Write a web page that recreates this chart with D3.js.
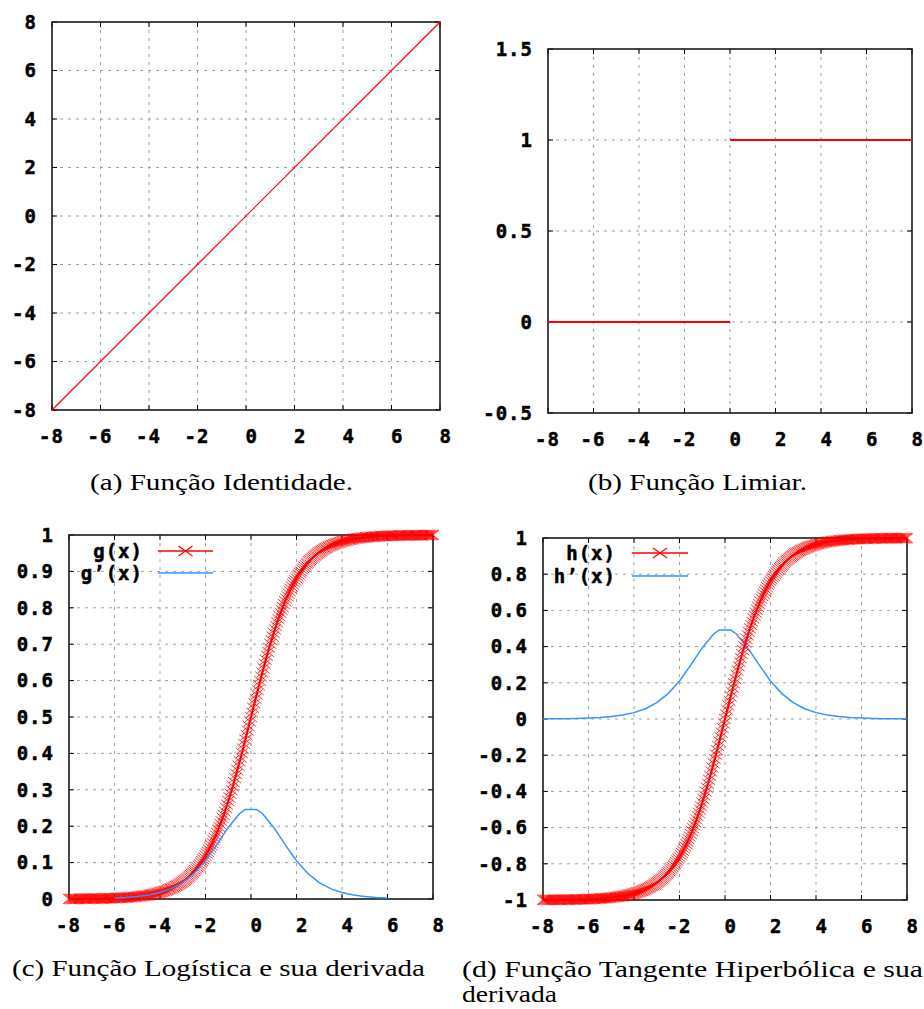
<!DOCTYPE html>
<html>
<head>
<meta charset="utf-8">
<script src="https://cdn.jsdelivr.net/npm/d3@7"></script>
<style>
  body { margin: 0; background: #fff; }
  text.tk { font-family: "DejaVu Sans Mono", monospace; font-weight: bold; font-size: 19px; letter-spacing: 1px; fill: #000; stroke: #000; stroke-width: 0.5px; }
  text.cap { font-family: "Liberation Serif", "DejaVu Serif", serif; font-size: 23px; fill: #000; }
</style>
</head>
<body>
<div id="chart"></div>
<script>
// ---- data ----
const xTicks = [-8, -6, -4, -2, 0, 2, 4, 6, 8];

const identX = [-8, 8];
const identY = [-8, 8];

const stepLowX = [-8, 0];
const stepLowY = [0, 0];
const stepHighX = [0, 8];
const stepHighY = [1, 1];

const yTicksA = [-8, -6, -4, -2, 0, 2, 4, 6, 8];
const yTicksB = [-0.5, 0, 0.5, 1, 1.5];
const yLabelsB = ['-0.5', '0', '0.5', '1', '1.5'];
const yTicksC = [0, 0.1, 0.2, 0.3, 0.4, 0.5, 0.6, 0.7, 0.8, 0.9, 1];
const yLabelsC = ['0', '0.1', '0.2', '0.3', '0.4', '0.5', '0.6', '0.7', '0.8', '0.9', '1'];
const yTicksD = [-1, -0.8, -0.6, -0.4, -0.2, 0, 0.2, 0.4, 0.6, 0.8, 1];
const yLabelsD = ['-1', '-0.8', '-0.6', '-0.4', '-0.2', '0', '0.2', '0.4', '0.6', '0.8', '1'];

// sample positions of the marked curves
const sampleX = [
  -8,-7.95,-7.9,-7.85,-7.8,-7.75,-7.7,-7.65,-7.6,-7.55,-7.5,-7.45,-7.4,-7.35,-7.3,-7.25,-7.2,-7.15,-7.1,-7.05,
  -7,-6.95,-6.9,-6.85,-6.8,-6.75,-6.7,-6.65,-6.6,-6.55,-6.5,-6.45,-6.4,-6.35,-6.3,-6.25,-6.2,-6.15,-6.1,-6.05,
  -6,-5.95,-5.9,-5.85,-5.8,-5.75,-5.7,-5.65,-5.6,-5.55,-5.5,-5.45,-5.4,-5.35,-5.3,-5.25,-5.2,-5.15,-5.1,-5.05,
  -5,-4.95,-4.9,-4.85,-4.8,-4.75,-4.7,-4.65,-4.6,-4.55,-4.5,-4.45,-4.4,-4.35,-4.3,-4.25,-4.2,-4.15,-4.1,-4.05,
  -4,-3.95,-3.9,-3.85,-3.8,-3.75,-3.7,-3.65,-3.6,-3.55,-3.5,-3.45,-3.4,-3.35,-3.3,-3.25,-3.2,-3.15,-3.1,-3.05,
  -3,-2.95,-2.9,-2.85,-2.8,-2.75,-2.7,-2.65,-2.6,-2.55,-2.5,-2.45,-2.4,-2.35,-2.3,-2.25,-2.2,-2.15,-2.1,-2.05,
  -2,-1.95,-1.9,-1.85,-1.8,-1.75,-1.7,-1.65,-1.6,-1.55,-1.5,-1.45,-1.4,-1.35,-1.3,-1.25,-1.2,-1.15,-1.1,-1.05,
  -1,-0.95,-0.9,-0.85,-0.8,-0.75,-0.7,-0.65,-0.6,-0.55,-0.5,-0.45,-0.4,-0.35,-0.3,-0.25,-0.2,-0.15,-0.1,-0.05,
  0,0.05,0.1,0.15,0.2,0.25,0.3,0.35,0.4,0.45,0.5,0.55,0.6,0.65,0.7,0.75,0.8,0.85,0.9,0.95,
  1,1.05,1.1,1.15,1.2,1.25,1.3,1.35,1.4,1.45,1.5,1.55,1.6,1.65,1.7,1.75,1.8,1.85,1.9,1.95,
  2,2.05,2.1,2.15,2.2,2.25,2.3,2.35,2.4,2.45,2.5,2.55,2.6,2.65,2.7,2.75,2.8,2.85,2.9,2.95,
  3,3.05,3.1,3.15,3.2,3.25,3.3,3.35,3.4,3.45,3.5,3.55,3.6,3.65,3.7,3.75,3.8,3.85,3.9,3.95,
  4,4.05,4.1,4.15,4.2,4.25,4.3,4.35,4.4,4.45,4.5,4.55,4.6,4.65,4.7,4.75,4.8,4.85,4.9,4.95,
  5,5.05,5.1,5.15,5.2,5.25,5.3,5.35,5.4,5.45,5.5,5.55,5.6,5.65,5.7,5.75,5.8,5.85,5.9,5.95,
  6,6.05,6.1,6.15,6.2,6.25,6.3,6.35,6.4,6.45,6.5,6.55,6.6,6.65,6.7,6.75,6.8,6.85,6.9,6.95,
  7,7.05,7.1,7.15,7.2,7.25,7.3,7.35,7.4,7.45,7.5,7.55,7.6,7.65,7.7,7.75,7.8,7.85,7.9,7.95,
  8
];

// g(x), logistic
const gVals = [
  0,0,0,0,0,0,0,0,0,.001,.001,.001,.001,.001,.001,.001,.001,.001,.001,.001,
  .001,.001,.001,.001,.001,.001,.001,.001,.001,.001,.001,.002,.002,.002,.002,.002,.002,.002,.002,.002,
  .002,.003,.003,.003,.003,.003,.003,.003,.004,.004,.004,.004,.004,.005,.005,.005,.005,.006,.006,.006,
  .007,.007,.007,.008,.008,.009,.009,.009,.010,.010,.011,.012,.012,.013,.013,.014,.015,.016,.016,.017,
  .018,.019,.020,.021,.022,.023,.024,.025,.027,.028,.029,.031,.032,.034,.036,.037,.039,.041,.043,.045,
  .047,.050,.052,.055,.057,.060,.063,.066,.069,.072,.076,.079,.083,.087,.091,.095,.100,.104,.109,.114,
  .119,.125,.130,.136,.142,.148,.154,.161,.168,.175,.182,.190,.198,.206,.214,.223,.231,.240,.250,.259,
  .269,.279,.289,.299,.310,.321,.332,.343,.354,.366,.378,.389,.401,.413,.426,.438,.450,.463,.475,.488,
  .500,.512,.525,.537,.550,.562,.574,.587,.599,.611,.622,.634,.646,.657,.668,.679,.690,.701,.711,.721,
  .731,.741,.750,.760,.769,.777,.786,.794,.802,.810,.818,.825,.832,.839,.846,.852,.858,.864,.870,.875,
  .881,.886,.891,.896,.900,.905,.909,.913,.917,.921,.924,.928,.931,.934,.937,.940,.943,.945,.948,.950,
  .953,.955,.957,.959,.961,.963,.964,.966,.968,.969,.971,.972,.973,.975,.976,.977,.978,.979,.980,.981,
  .982,.983,.984,.984,.985,.986,.987,.987,.988,.988,.989,.990,.990,.991,.991,.991,.992,.992,.993,.993,
  .993,.994,.994,.994,.995,.995,.995,.995,.996,.996,.996,.996,.996,.997,.997,.997,.997,.997,.997,.997,
  .998,.998,.998,.998,.998,.998,.998,.998,.998,.998,.999,.999,.999,.999,.999,.999,.999,.999,.999,.999,
  .999,.999,.999,.999,.999,.999,.999,.999,.999,.999,.999,.999,1,1,1,1,1,1,1,1,
  1
];

// h(x), hyperbolic tangent
const hVals = [
  -.999,-.999,-.999,-.999,-.999,-.999,-.999,-.999,-.999,-.999,-.999,-.999,-.999,-.999,-.999,-.999,-.999,-.998,-.998,-.998,
  -.998,-.998,-.998,-.998,-.998,-.998,-.998,-.997,-.997,-.997,-.997,-.997,-.997,-.997,-.996,-.996,-.996,-.996,-.996,-.995,
  -.995,-.995,-.995,-.994,-.994,-.994,-.993,-.993,-.993,-.992,-.992,-.991,-.991,-.991,-.990,-.990,-.989,-.988,-.988,-.987,
  -.987,-.986,-.985,-.984,-.984,-.983,-.982,-.981,-.980,-.979,-.978,-.977,-.976,-.975,-.973,-.972,-.970,-.969,-.967,-.966,
  -.964,-.962,-.960,-.958,-.956,-.954,-.952,-.949,-.947,-.944,-.941,-.938,-.935,-.932,-.929,-.925,-.922,-.918,-.914,-.910,
  -.905,-.901,-.896,-.891,-.885,-.880,-.874,-.868,-.862,-.855,-.848,-.841,-.834,-.826,-.818,-.809,-.800,-.791,-.782,-.772,
  -.762,-.751,-.740,-.728,-.716,-.704,-.691,-.678,-.664,-.650,-.635,-.620,-.604,-.588,-.572,-.555,-.537,-.519,-.501,-.482,
  -.462,-.442,-.422,-.401,-.380,-.358,-.336,-.314,-.291,-.268,-.245,-.221,-.197,-.173,-.149,-.124,-.100,-.075,-.050,-.025,
  0,.025,.050,.075,.100,.124,.149,.173,.197,.221,.245,.268,.291,.314,.336,.358,.380,.401,.422,.442,
  .462,.482,.501,.519,.537,.555,.572,.588,.604,.620,.635,.650,.664,.678,.691,.704,.716,.728,.740,.751,
  .762,.772,.782,.791,.800,.809,.818,.826,.834,.841,.848,.855,.862,.868,.874,.880,.885,.891,.896,.901,
  .905,.910,.914,.918,.922,.925,.929,.932,.935,.938,.941,.944,.947,.949,.952,.954,.956,.958,.960,.962,
  .964,.966,.967,.969,.970,.972,.973,.975,.976,.977,.978,.979,.980,.981,.982,.983,.984,.984,.985,.986,
  .987,.987,.988,.988,.989,.990,.990,.991,.991,.991,.992,.992,.993,.993,.993,.994,.994,.994,.995,.995,
  .995,.995,.996,.996,.996,.996,.996,.997,.997,.997,.997,.997,.997,.997,.998,.998,.998,.998,.998,.998,
  .998,.998,.998,.998,.999,.999,.999,.999,.999,.999,.999,.999,.999,.999,.999,.999,.999,.999,.999,.999,
  .999
];

// g'(x)
const gdX = [-6,-5.5,-5,-4.5,-4,-3.5,-3,-2.5,-2,-1.5,-1,-0.5,-0.25,0.25,0.5,1,1.5,2,2.5,3,3.5,4,4.5,5,5.5,6];
const gdY = [.0025,.0040,.0066,.0109,.0177,.0285,.0452,.0701,.1050,.1494,.1966,.2350,.2461,
             .2461,.2350,.1966,.1494,.1050,.0701,.0452,.0285,.0177,.0109,.0066,.0040,.0025];

// h'(x)
const hdX = [-8,-7.5,-7,-6.5,-6,-5.5,-5,-4.5,-4,-3.5,-3,-2.5,-2,-1.5,-1,-0.5,-0.25,
             0.25,0.5,1,1.5,2,2.5,3,3.5,4,4.5,5,5.5,6,6.5,7,7.5,8];
const hdY = [.0007,.0011,.0018,.0030,.0049,.0081,.0133,.0218,.0353,.0569,.0904,.1402,.2100,.2988,.3932,.4700,.4922,
             .4922,.4700,.3932,.2988,.2100,.1402,.0904,.0569,.0353,.0218,.0133,.0081,.0049,.0030,.0018,.0011,.0007];

const RED = '#ff0000';
const BLUE = '#3393ff';

const svg = d3.select('#chart').append('svg')
  .attr('width', 924)
  .attr('height', 1009);

function panel(box, yDomain, yTicks, yLabels) {
  const x = d3.scaleLinear().domain([-8, 8]).range([box.x0, box.x1]);
  const y = d3.scaleLinear().domain(yDomain).range([box.y1, box.y0]);
  const g = svg.append('g');

  // dashed grid on the inner ticks
  g.selectAll('line.vg').data(xTicks.slice(1, -1)).enter().append('line')
    .attr('x1', d => x(d)).attr('x2', d => x(d))
    .attr('y1', box.y0).attr('y2', box.y1)
    .attr('stroke', '#a0a0a0').attr('stroke-dasharray', '3,5');
  g.selectAll('line.hg').data(yTicks.slice(1, -1)).enter().append('line')
    .attr('y1', d => y(d)).attr('y2', d => y(d))
    .attr('x1', box.x0).attr('x2', box.x1)
    .attr('stroke', '#a0a0a0').attr('stroke-dasharray', '3,5');

  // inward ticks, mirrored
  const tl = 5;
  xTicks.forEach(t => {
    g.append('line').attr('x1', x(t)).attr('x2', x(t)).attr('y1', box.y1).attr('y2', box.y1 - tl).attr('stroke', '#000');
    g.append('line').attr('x1', x(t)).attr('x2', x(t)).attr('y1', box.y0).attr('y2', box.y0 + tl).attr('stroke', '#000');
  });
  yTicks.forEach(t => {
    g.append('line').attr('y1', y(t)).attr('y2', y(t)).attr('x1', box.x0).attr('x2', box.x0 + tl).attr('stroke', '#000');
    g.append('line').attr('y1', y(t)).attr('y2', y(t)).attr('x1', box.x1).attr('x2', box.x1 - tl).attr('stroke', '#000');
  });

  g.append('rect')
    .attr('x', box.x0).attr('y', box.y0)
    .attr('width', box.x1 - box.x0).attr('height', box.y1 - box.y0)
    .attr('fill', 'none').attr('stroke', '#1a1a1a').attr('stroke-width', 1.6);

  g.selectAll('text.xl').data(xTicks).enter().append('text')
    .attr('class', 'tk')
    .attr('x', d => x(d) + 12).attr('y', box.y1 + 26).attr('dy', '0.36em')
    .attr('text-anchor', 'end')
    .text(d => String(d));
  g.selectAll('text.yl').data(yTicks).enter().append('text')
    .attr('class', 'tk')
    .attr('x', box.x0 - 15).attr('y', d => y(d)).attr('dy', '0.36em')
    .attr('text-anchor', 'end')
    .text((d, i) => yLabels[i]);

  return { x, y, g };
}

function caption(x, y, txt, len) {
  svg.append('text').attr('class', 'cap')
    .attr('x', x).attr('y', y)
    .attr('textLength', len).attr('lengthAdjust', 'spacingAndGlyphs')
    .text(txt);
}

function crosses(p, xs, ys, sx, sy) {
  let d = '';
  xs.forEach((v, i) => {
    const cx = p.x(v), cy = p.y(ys[i]);
    d += `M${cx - sx},${cy - sy}L${cx + sx},${cy + sy}M${cx - sx},${cy + sy}L${cx + sx},${cy - sy}`;
  });
  return d;
}

// (a) identity
const pa = panel({ x0: 52, x1: 440, y0: 22, y1: 410 }, [-8, 8], yTicksA, yTicksA.map(String));
pa.g.append('path')
  .attr('d', d3.line().x(d => pa.x(d[0])).y(d => pa.y(d[1]))(d3.zip(identX, identY)))
  .attr('fill', 'none').attr('stroke', RED).attr('stroke-width', 1.2);
caption(90, 490, '(a) Função Identidade.', 263);

// (b) threshold
const pb = panel({ x0: 548, x1: 912, y0: 49, y1: 413 }, [-0.5, 1.5], yTicksB, yLabelsB);
const lineB = d3.line().x(d => pb.x(d[0])).y(d => pb.y(d[1]));
pb.g.append('path').attr('d', lineB(d3.zip(stepLowX, stepLowY)))
  .attr('fill', 'none').attr('stroke', RED).attr('stroke-width', 1.8);
pb.g.append('path').attr('d', lineB(d3.zip(stepHighX, stepHighY)))
  .attr('fill', 'none').attr('stroke', RED).attr('stroke-width', 1.8);
caption(588, 490, '(b) Função Limiar.', 219);

// (c) logistic
const pc = panel({ x0: 69, x1: 433, y0: 535, y1: 899 }, [0, 1], yTicksC, yLabelsC);
const lineC = d3.line().x(d => pc.x(d[0])).y(d => pc.y(d[1]));
pc.g.append('path').attr('d', crosses(pc, sampleX, gVals, 6, 5))
  .attr('fill', 'none').attr('stroke', RED).attr('stroke-width', 1).attr('stroke-opacity', 0.8);
pc.g.append('path').attr('d', lineC(d3.zip(sampleX, gVals)))
  .attr('fill', 'none').attr('stroke', RED).attr('stroke-width', 2);
pc.g.append('path').attr('d', lineC(d3.zip(gdX, gdY)))
  .attr('fill', 'none').attr('stroke', BLUE).attr('stroke-width', 1.5);
caption(12, 976, '(c) Função Logística e sua derivada', 413);

// (d) tanh
const pd = panel({ x0: 543, x1: 907, y0: 538, y1: 900 }, [-1, 1], yTicksD, yLabelsD);
const lineD = d3.line().x(d => pd.x(d[0])).y(d => pd.y(d[1]));
pd.g.append('path').attr('d', lineD(d3.zip(hdX, hdY)))
  .attr('fill', 'none').attr('stroke', BLUE).attr('stroke-width', 1.5);
pd.g.append('path').attr('d', crosses(pd, sampleX, hVals, 6, 5))
  .attr('fill', 'none').attr('stroke', RED).attr('stroke-width', 1).attr('stroke-opacity', 0.8);
pd.g.append('path').attr('d', lineD(d3.zip(sampleX, hVals)))
  .attr('fill', 'none').attr('stroke', RED).attr('stroke-width', 2);
caption(462, 977, '(d) Função Tangente Hiperbólica e sua', 461);
caption(462, 1002, 'derivada', 95);

// legends
function legend(tx, lx0, lx1, yTop, yBot, n1, n2) {
  svg.append('text').attr('class', 'tk').attr('x', tx).attr('y', yTop).attr('dy', '0.36em').attr('text-anchor', 'end').text(n1);
  svg.append('text').attr('class', 'tk').attr('x', tx).attr('y', yBot).attr('dy', '0.36em').attr('text-anchor', 'end').text(n2);
  svg.append('line').attr('x1', lx0).attr('x2', lx1).attr('y1', yTop).attr('y2', yTop).attr('stroke', RED).attr('stroke-width', 1.6);
  const cx = (lx0 + lx1) / 2;
  svg.append('path').attr('d', `M${cx - 7},${yTop - 5}L${cx + 7},${yTop + 5}M${cx - 7},${yTop + 5}L${cx + 7},${yTop - 5}`)
    .attr('stroke', RED).attr('stroke-width', 1.2);
  svg.append('line').attr('x1', lx0).attr('x2', lx1).attr('y1', yBot).attr('y2', yBot).attr('stroke', BLUE).attr('stroke-width', 1.6);
}
legend(143, 158, 213, 551, 573, 'g(x)', 'g\u2019(x)');
legend(616, 632, 688, 553, 576, 'h(x)', 'h\u2019(x)');
</script>
</body>
</html>
